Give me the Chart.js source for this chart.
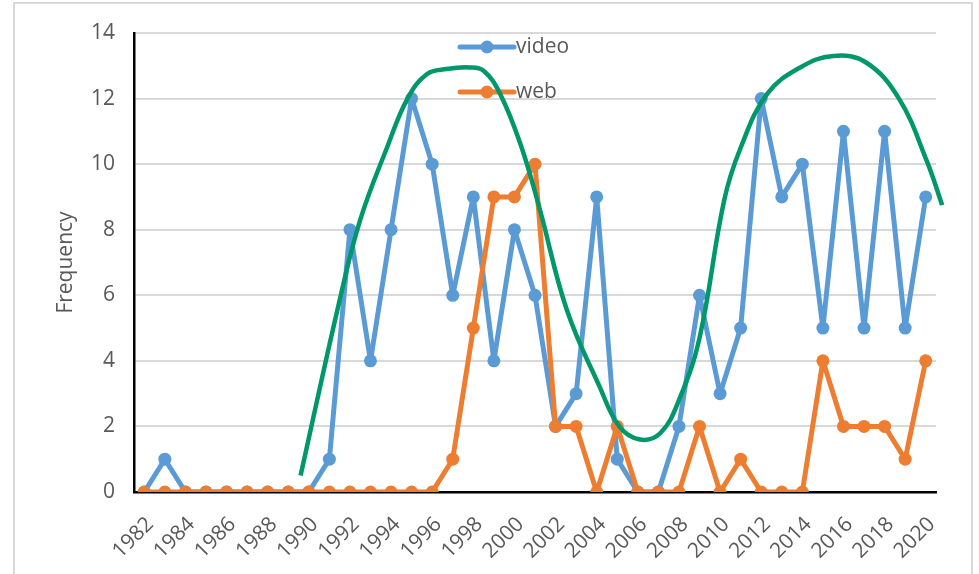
<!DOCTYPE html>
<html>
<head>
<meta charset="utf-8">
<script src="https://cdn.jsdelivr.net/npm/chart.js@4.4.1/dist/chart.umd.min.js"></script>
<style>
  html, body { margin: 0; padding: 0; background: #fff; }
  #wrap { position: relative; width: 979px; height: 574px; overflow: hidden; }
  #frame { position: absolute; left: 13px; top: 2px; width: 960px; height: 620px;
           border: 2px solid #d9d9d9; box-sizing: border-box; }
  canvas { position: absolute; left: 0; top: 0; }
</style>
</head>
<body>
<div id="wrap">
  <div id="frame"></div>
  <canvas id="c" width="979" height="574"></canvas>
</div>
<script>
// Publication years
const years = ['1982','1983','1984','1985','1986','1987','1988','1989','1990','1991',
               '1992','1993','1994','1995','1996','1997','1998','1999','2000','2001',
               '2002','2003','2004','2005','2006','2007','2008','2009','2010','2011',
               '2012','2013','2014','2015','2016','2017','2018','2019','2020'];

// Labels printed on the year axis
const tickLabels = ['1982','1984','1986','1988','1990','1992','1994','1996','1998','2000',
                    '2002','2004','2006','2008','2010','2012','2014','2016','2018','2020'];

// Yearly frequency per keyword
const video = [0,1,0,0,0,0,0,0,0,1,
               8,4,8,12,10,6,9,4,8,6,
               2,3,9,1,0,0,2,6,3,5,
               12,9,10,5,11,5,11,5,9];
const web   = [0,0,0,0,0,0,0,0,0,0,
               0,0,0,0,0,1,5,9,9,10,
               2,2,0,2,0,0,0,2,0,1,
               0,0,0,4,2,2,2,1,4];

// Hand-drawn wave sketched over the series (year, frequency)
const waveYears  = [1989.6, 1991.5, 1992.5, 1993.8, 1994.8, 1995.75, 1996.7, 1997.8, 1998.5,
                    1999.3, 2000.3, 2001.2, 2002.55, 2004.15, 2005.1, 2006.1, 2007.1, 2008.0,
                    2009.0, 2010.2, 2011.0, 2012.3, 2013.9, 2015.5, 2017.1, 2018.7, 2020.05, 2020.8];
const waveValues = [0.5, 5.85, 8.3, 10.5, 12.0, 12.75, 12.9, 12.95, 12.85,
                    12.15, 10.6, 8.7, 5.55, 3.2, 2.0, 1.6, 1.8, 2.8,
                    4.7, 8.9, 10.5, 12.15, 12.95, 13.3, 13.1, 12.0, 10.1, 8.75];

const textColor = '#595959';
const fontFamily = '"Open Sans", "DejaVu Sans", sans-serif';

const legendItems = [
  { text: 'video', color: '#5B9BD5' },
  { text: 'web',   color: '#ED7D31' }
];

// Legend placed inside the plot, near the top
const insideLegend = {
  id: 'insideLegend',
  beforeDatasetsDraw(chart) {
    const ctx = chart.ctx;
    ctx.save();
    legendItems.forEach((item, i) => {
      const y = 47 + i * 45;
      ctx.strokeStyle = item.color;
      ctx.lineWidth = 5;
      ctx.lineCap = 'round';
      ctx.beginPath();
      ctx.moveTo(460, y);
      ctx.lineTo(514, y);
      ctx.stroke();
      ctx.fillStyle = item.color;
      ctx.beginPath();
      ctx.arc(487, y, 6.5, 0, Math.PI * 2);
      ctx.fill();
      ctx.fillStyle = textColor;
      ctx.font = '21px ' + fontFamily;
      ctx.textBaseline = 'middle';
      ctx.textAlign = 'left';
      ctx.fillText(item.text, 516, y);
    });
    ctx.restore();
  }
};

new Chart(document.getElementById('c'), {
  type: 'line',
  data: {
    labels: years,
    datasets: [
      {
        label: 'wave',
        data: waveYears.map((x, i) => ({ x: x, y: waveValues[i] })),
        xAxisID: 'xw',
        borderColor: '#00976b',
        borderWidth: 4.5,
        borderCapStyle: 'butt',
        pointRadius: 0,
        tension: 0.4,
        fill: false,
        clip: false,
        order: 0
      },
      {
        label: 'web',
        data: web,
        xAxisID: 'x',
        borderColor: '#ED7D31',
        backgroundColor: '#ED7D31',
        borderWidth: 5,
        borderJoinStyle: 'round',
        pointRadius: 6.5,
        pointBorderWidth: 0,
        tension: 0,
        order: 1
      },
      {
        label: 'video',
        data: video,
        xAxisID: 'x',
        borderColor: '#5B9BD5',
        backgroundColor: '#5B9BD5',
        borderWidth: 5,
        borderJoinStyle: 'round',
        pointRadius: 6.5,
        pointBorderWidth: 0,
        tension: 0,
        order: 2
      }
    ]
  },
  options: {
    responsive: false,
    devicePixelRatio: 1,
    animation: false,
    layout: { padding: { left: 0, top: 33, right: 43, bottom: 0 } },
    plugins: { legend: { display: false }, tooltip: { enabled: false } },
    scales: {
      x: {
        type: 'category',
        offset: true,
        grid: { display: false, drawTicks: false },
        border: { color: '#000', width: 2.5 },
        ticks: {
          autoSkip: false,
          minRotation: 45,
          maxRotation: 45,
          padding: 20,
          labelOffset: 6,
          color: textColor,
          font: { family: fontFamily, size: 21 },
          callback: function (value) {
            const l = this.getLabelForValue(value);
            return tickLabels.includes(l) ? l : '';
          }
        },
        afterFit(scale) { scale.height = 82; }
      },
      xw: { type: 'linear', display: false, min: 1981.5, max: 2020.5 },
      y: {
        min: 0,
        max: 14,
        ticks: { stepSize: 2, padding: 19, color: textColor, font: { family: fontFamily, size: 21 } },
        grid: { color: '#d9d9d9', lineWidth: 2, drawTicks: false },
        border: { color: '#000', width: 2.5 },
        title: {
          display: true,
          text: 'Frequency',
          color: textColor,
          font: { family: fontFamily, size: 21 },
          padding: { top: 53, bottom: 0 }
        },
        afterFit(scale) { scale.width = 134; }
      }
    }
  },
  plugins: [insideLegend]
});
</script>
</body>
</html>
